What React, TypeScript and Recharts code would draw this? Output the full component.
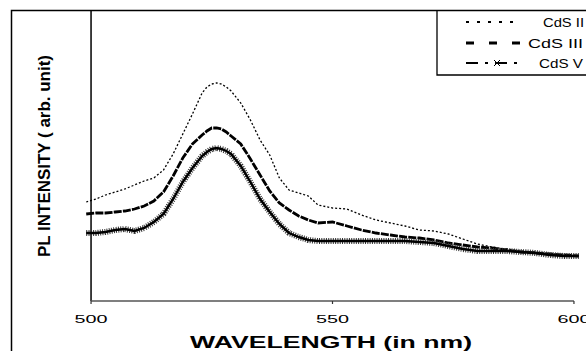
import { LineChart, Line, XAxis, YAxis, ReferenceLine } from 'recharts';

// PL spectra of the CdS samples (intensity in arbitrary units)
const WAVELENGTH = [
  499, 501, 503, 505, 507, 509, 511, 513, 515, 517, 519, 521, 523, 524, 525, 526,
  527, 528, 529, 531, 533, 535, 537, 539, 541, 543, 545, 547, 550, 553, 556, 559,
  562, 565, 568, 571, 574, 577, 580, 583, 586, 589, 592, 595, 598, 601,
];
const CDS_II = [
  98, 101, 105, 108, 111, 115, 119, 122, 130, 146, 166, 186, 207, 213, 216, 217,
  216, 213, 209, 197, 180, 160, 145, 122, 110, 107, 104, 95, 92, 91, 85, 80,
  77, 74, 70, 69, 66, 61, 56, 53, 51, 49, 48, 46, 45, 44,
];
const CDS_III = [
  86, 87, 87, 88, 89, 91, 94, 99, 108, 124, 142, 156, 165, 169, 172, 172,
  171, 168, 164, 156, 141, 125, 109, 97, 90, 84, 80, 77, 78, 74, 70, 67,
  65, 63, 62, 60, 57, 55, 53, 52, 50, 48, 47, 46, 45, 44,
];
const CDS_V = [
  67, 67, 68, 70, 71, 69, 72, 78, 86, 101, 118, 132, 144, 148, 151, 152,
  151, 149, 146, 134, 118, 101, 88, 76, 67, 63, 60, 59, 59, 59, 59, 59,
  59, 59, 58, 57, 54, 51, 49, 49, 49, 48, 47, 45, 44, 44,
];
const X_TICKS = [500, 550, 600];

const data = WAVELENGTH.map((wl, i) => ({
  wl,
  ii: CDS_II[i],
  iii: CDS_III[i],
  v: CDS_V[i],
}));

const FONT = '"Liberation Sans", Arial, Helvetica, sans-serif';

function WavelengthTick(props: any) {
  const { x, y, payload } = props;
  return (
    <text
      x={x}
      y={y + 17}
      textAnchor="middle"
      fontSize={11.5}
      fontFamily={FONT}
      fill="#000"
      textLength={33}
      lengthAdjust="spacingAndGlyphs"
    >
      {payload.value}
    </text>
  );
}

// x marker used in the legend for CdS V
function Cross({ cx, cy, r }: { cx: number; cy: number; r: number }) {
  return (
    <path
      d={`M${cx - r} ${cy - r} L${cx + r} ${cy + r} M${cx - r} ${cy + r} L${cx + r} ${cy - r}`}
      stroke="#000"
      strokeWidth={1}
    />
  );
}

function Overlay() {
  return (
    <svg
      width={586}
      height={351}
      style={{ position: 'absolute', left: 0, top: 0, pointerEvents: 'none' }}
    >
      {/* outer frame */}
      <path d="M11.5 351 V10.5 H586" fill="none" stroke="#000" strokeWidth={1.5} />

      {/* legend */}
      <path d="M437 10.5 V75 H586" fill="none" stroke="#000" strokeWidth={1.3} />
      <line x1={466} y1={22} x2={521} y2={22} stroke="#000" strokeWidth={2} strokeDasharray="3 8" />
      <text x={543} y={26.5} fontSize={12} fontFamily={FONT} textLength={41} lengthAdjust="spacingAndGlyphs">
        CdS II
      </text>
      <line x1={466} y1={43} x2={527} y2={43} stroke="#000" strokeWidth={3} strokeDasharray="8 15" />
      <text x={528} y={47.5} fontSize={12} fontFamily={FONT} textLength={55} lengthAdjust="spacingAndGlyphs">
        CdS III
      </text>
      <line x1={466} y1={63} x2={524} y2={63} stroke="#000" strokeWidth={2} strokeDasharray="12 7 3 7" />
      <Cross cx={497} cy={63} r={3} />
      <text x={539} y={67.5} fontSize={12} fontFamily={FONT} textLength={44} lengthAdjust="spacingAndGlyphs">
        CdS V
      </text>

      {/* axis titles */}
      <text
        x={331}
        y={348}
        textAnchor="middle"
        fontSize={16.5}
        fontWeight="bold"
        fontFamily={FONT}
        textLength={282}
        lengthAdjust="spacingAndGlyphs"
      >
        WAVELENGTH (in nm)
      </text>
      <text
        transform="translate(50 156) rotate(-90)"
        textAnchor="middle"
        fontSize={17}
        fontWeight="bold"
        fontFamily={FONT}
        textLength={202}
        lengthAdjust="spacingAndGlyphs"
      >
        PL INTENSITY ( arb. unit)
      </text>
    </svg>
  );
}

export default function App() {
  return (
    <div
      style={{
        position: 'absolute',
        left: 0,
        top: 0,
        width: 586,
        height: 351,
        overflow: 'hidden',
        background: '#fff',
      }}
    >
      <LineChart
        width={586}
        height={351}
        data={data}
        margin={{ top: 10, right: 4.8, left: 83.8, bottom: 20 }}
      >
        <XAxis
          dataKey="wl"
          type="number"
          domain={[498.5, 601.5]}
          ticks={X_TICKS}
          interval={0}
          allowDataOverflow
          axisLine={false}
          tickLine={{ stroke: '#333', strokeWidth: 1.2 }}
          tickSize={3}
          height={30}
          tick={<WavelengthTick />}
        />
        <YAxis hide type="number" domain={[-1, 290]} allowDataOverflow />
        <ReferenceLine x={500} stroke="#000" strokeWidth={1.5} />
        <ReferenceLine
          segment={[
            { x: 500, y: -1 },
            { x: 600, y: -1 },
          ]}
          stroke="#555"
          strokeWidth={1.5}
        />
        <Line
          dataKey="ii"
          name="CdS II"
          type="linear"
          stroke="#000"
          strokeWidth={1.3}
          strokeDasharray="2 2"
          dot={false}
          isAnimationActive={false}
        />
        <Line
          dataKey="iii"
          name="CdS III"
          type="linear"
          stroke="#000"
          strokeWidth={2.8}
          strokeDasharray="8 1.2"
          dot={false}
          isAnimationActive={false}
        />
        {/* dense cross markers of CdS V appear as a hatched band around the line */}
        <Line
          dataKey="v"
          name="CdS V markers"
          type="linear"
          stroke="#333"
          strokeWidth={6}
          strokeDasharray="1 1.3"
          dot={false}
          legendType="none"
          isAnimationActive={false}
        />
        <Line
          dataKey="v"
          name="CdS V"
          type="linear"
          stroke="#000"
          strokeWidth={2.4}
          dot={false}
          isAnimationActive={false}
        />
      </LineChart>
      <Overlay />
    </div>
  );
}
